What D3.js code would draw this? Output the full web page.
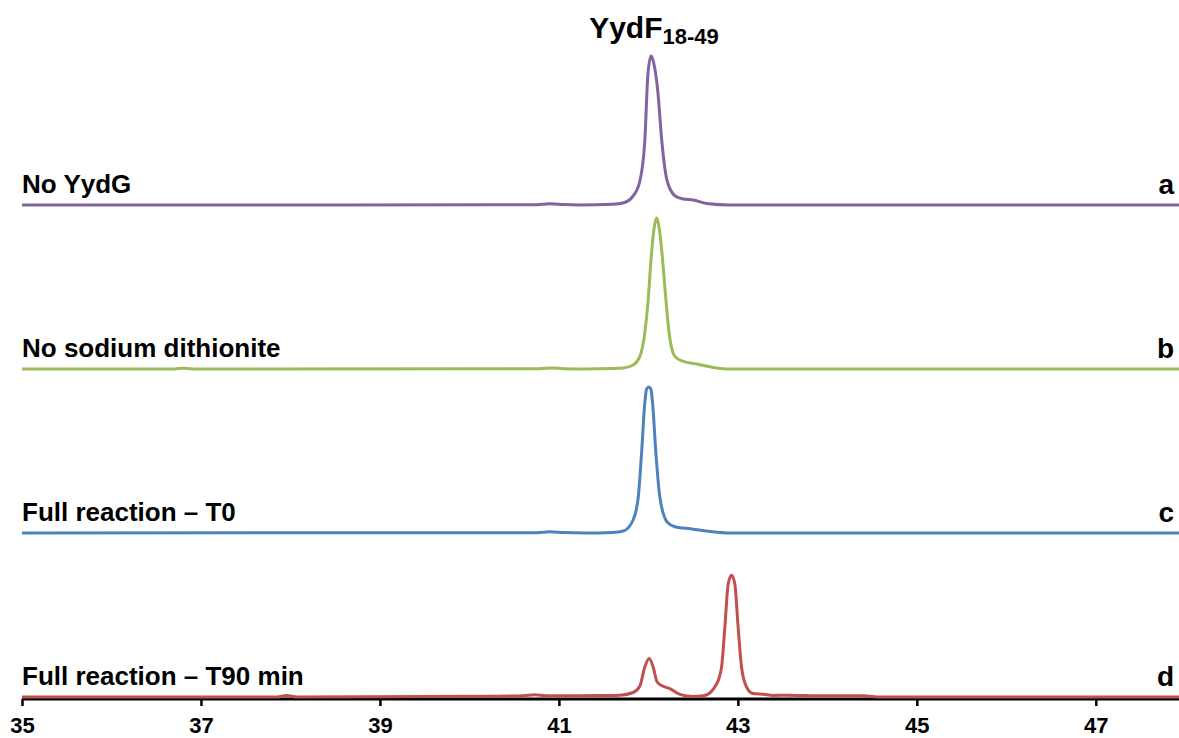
<!DOCTYPE html>
<html>
<head>
<meta charset="utf-8">
<script src="https://cdn.jsdelivr.net/npm/d3@7"></script>
<style>
  body { margin: 0; background: #fff; }
  svg { font-family: 'Liberation Sans', Arial, sans-serif; }
  .label { font-size: 26px; font-weight: bold; fill: #000; }
  .tick text { font-size: 22px; font-weight: bold; }
</style>
</head>
<body>
<svg width="1179" height="738"></svg>
<script>
// retention time (min), intensity (arbitrary units)
var traceA = [
  [35, 0], [38.5, 0], [40.75, 0.3], [40.9, 1.2], [41.05, 0.4], [41.23, 0],
  [41.6, 0.8], [41.715, 2], [41.83, 9], [41.905, 24], [41.96, 64], [41.995, 131],
  [42.03, 149], [42.06, 142], [42.105, 114], [42.15, 64], [42.21, 24], [42.30, 9],
  [42.39, 6], [42.50, 5], [42.65, 1.5], [42.91, 0], [47.93, 0]
];
var traceB = [
  [35, 0], [36.7, 0], [36.8, 0.8], [36.9, 0], [40.75, 0.2], [40.9, 1], [41.05, 0.3],
  [41.3, 0], [41.6, 0.4], [41.719, 1], [41.83, 4], [41.905, 12.6], [41.96, 36],
  [41.998, 69], [42.024, 103], [42.061, 139], [42.091, 151], [42.128, 136],
  [42.165, 103], [42.196, 69], [42.232, 36], [42.296, 12.6], [42.389, 7.6],
  [42.538, 5], [42.724, 1.6], [42.91, 0], [47.93, 0]
];
var traceC = [
  [35, 0], [40.75, 0.3], [40.9, 1.2], [41.05, 0.4], [41.3, 0], [41.6, 0.6],
  [41.719, 2], [41.83, 13], [41.887, 36], [41.924, 80], [41.96, 130], [41.98, 144],
  [42.006, 146], [42.028, 144], [42.047, 130], [42.084, 80], [42.128, 36],
  [42.21, 11], [42.296, 6.3], [42.427, 4.7], [42.65, 2], [42.91, 0], [47.93, 0]
];
var traceD = [
  [35, 0], [37.85, 0], [37.96, 1.6], [38.07, 0], [40.3, 0.8], [40.6, 1.2],
  [40.73, 2.2], [40.86, 1.2], [41.2, 1.2], [41.5, 1.4], [41.682, 1.8], [41.83, 4.5],
  [41.905, 11], [41.96, 30], [42.009, 38.4], [42.053, 30], [42.098, 15],
  [42.165, 10.7], [42.24, 8.4], [42.333, 3.4], [42.427, 1], [42.5, 0.6],
  [42.62, 1.2], [42.762, 13], [42.818, 30], [42.855, 70], [42.892, 113],
  [42.93, 121.7], [42.966, 113], [43.003, 70], [43.041, 30], [43.097, 10],
  [43.171, 3.4], [43.283, 2.7], [43.394, 1.6], [43.545, 1.8], [43.9, 1.3],
  [44.4, 1.2], [44.6, 0], [47.93, 0]
];

var trackIds = ['a', 'b', 'c', 'd'];
var trackNames = ['No YydG', 'No sodium dithionite', 'Full reaction \u2013 T0', 'Full reaction \u2013 T90 min'];
var trackColors = ['#8064a2', '#9bbb59', '#4f81bd', '#c0504d'];
var traces = [traceA, traceB, traceC, traceD];
var tickValues = [35, 37, 39, 41, 43, 45, 47];

var svg = d3.select('svg');
var width = 1179;

var xScale = d3.scaleLinear()
  .domain([35, 47.93])
  .range([22, 1179]);

var trackScale = d3.scalePoint()
  .domain(trackIds)
  .range([205, 697]);

var hScale = d3.scaleLinear()
  .domain([0, 150])
  .range([0, 150]);

// axis
var axisY = 699;
var axis = svg.append('g')
  .attr('transform', `translate(0, ${axisY})`)
  .call(d3.axisBottom(xScale)
    .tickValues(tickValues)
    .tickSize(7)
    .tickPadding(11)
    .tickFormat(d3.format('d')));

axis.select('.domain')
  .attr('d', `M${xScale(35)},0H${width}`)
  .attr('stroke', '#000')
  .attr('stroke-width', 3);

axis.selectAll('.tick line')
  .attr('stroke', '#000')
  .attr('stroke-width', 2.5);

axis.selectAll('.tick text')
  .attr('fill', '#000')
  .attr('font-family', "'Liberation Sans', Arial, sans-serif");

// traces
traces.forEach((data, i) => {
  var base = trackScale(trackIds[i]);
  var line = d3.line()
    .x((d) => xScale(d[0]))
    .y((d) => base - hScale(d[1]))
    .curve(d3.curveMonotoneX);

  svg.append('path')
    .datum(data)
    .attr('fill', 'none')
    .attr('stroke', trackColors[i])
    .attr('stroke-width', 3)
    .attr('stroke-linejoin', 'round')
    .attr('d', line);

  svg.append('text')
    .attr('class', 'label')
    .attr('x', 22)
    .attr('y', base - 12)
    .text(trackNames[i]);

  svg.append('text')
    .attr('class', 'label')
    .attr('x', 1174)
    .attr('y', base - 11)
    .attr('text-anchor', 'end')
    .style('font-size', '28px')
    .text(trackIds[i]);
});

// title
var title = svg.append('text')
  .attr('x', 654)
  .attr('y', 38)
  .attr('text-anchor', 'middle')
  .style('font-weight', 'bold')
  .style('font-size', '30px');
title.append('tspan').text('YydF');
title.append('tspan')
  .attr('dy', 6)
  .style('font-size', '22px')
  .text('18-49');
</script>
</body>
</html>
